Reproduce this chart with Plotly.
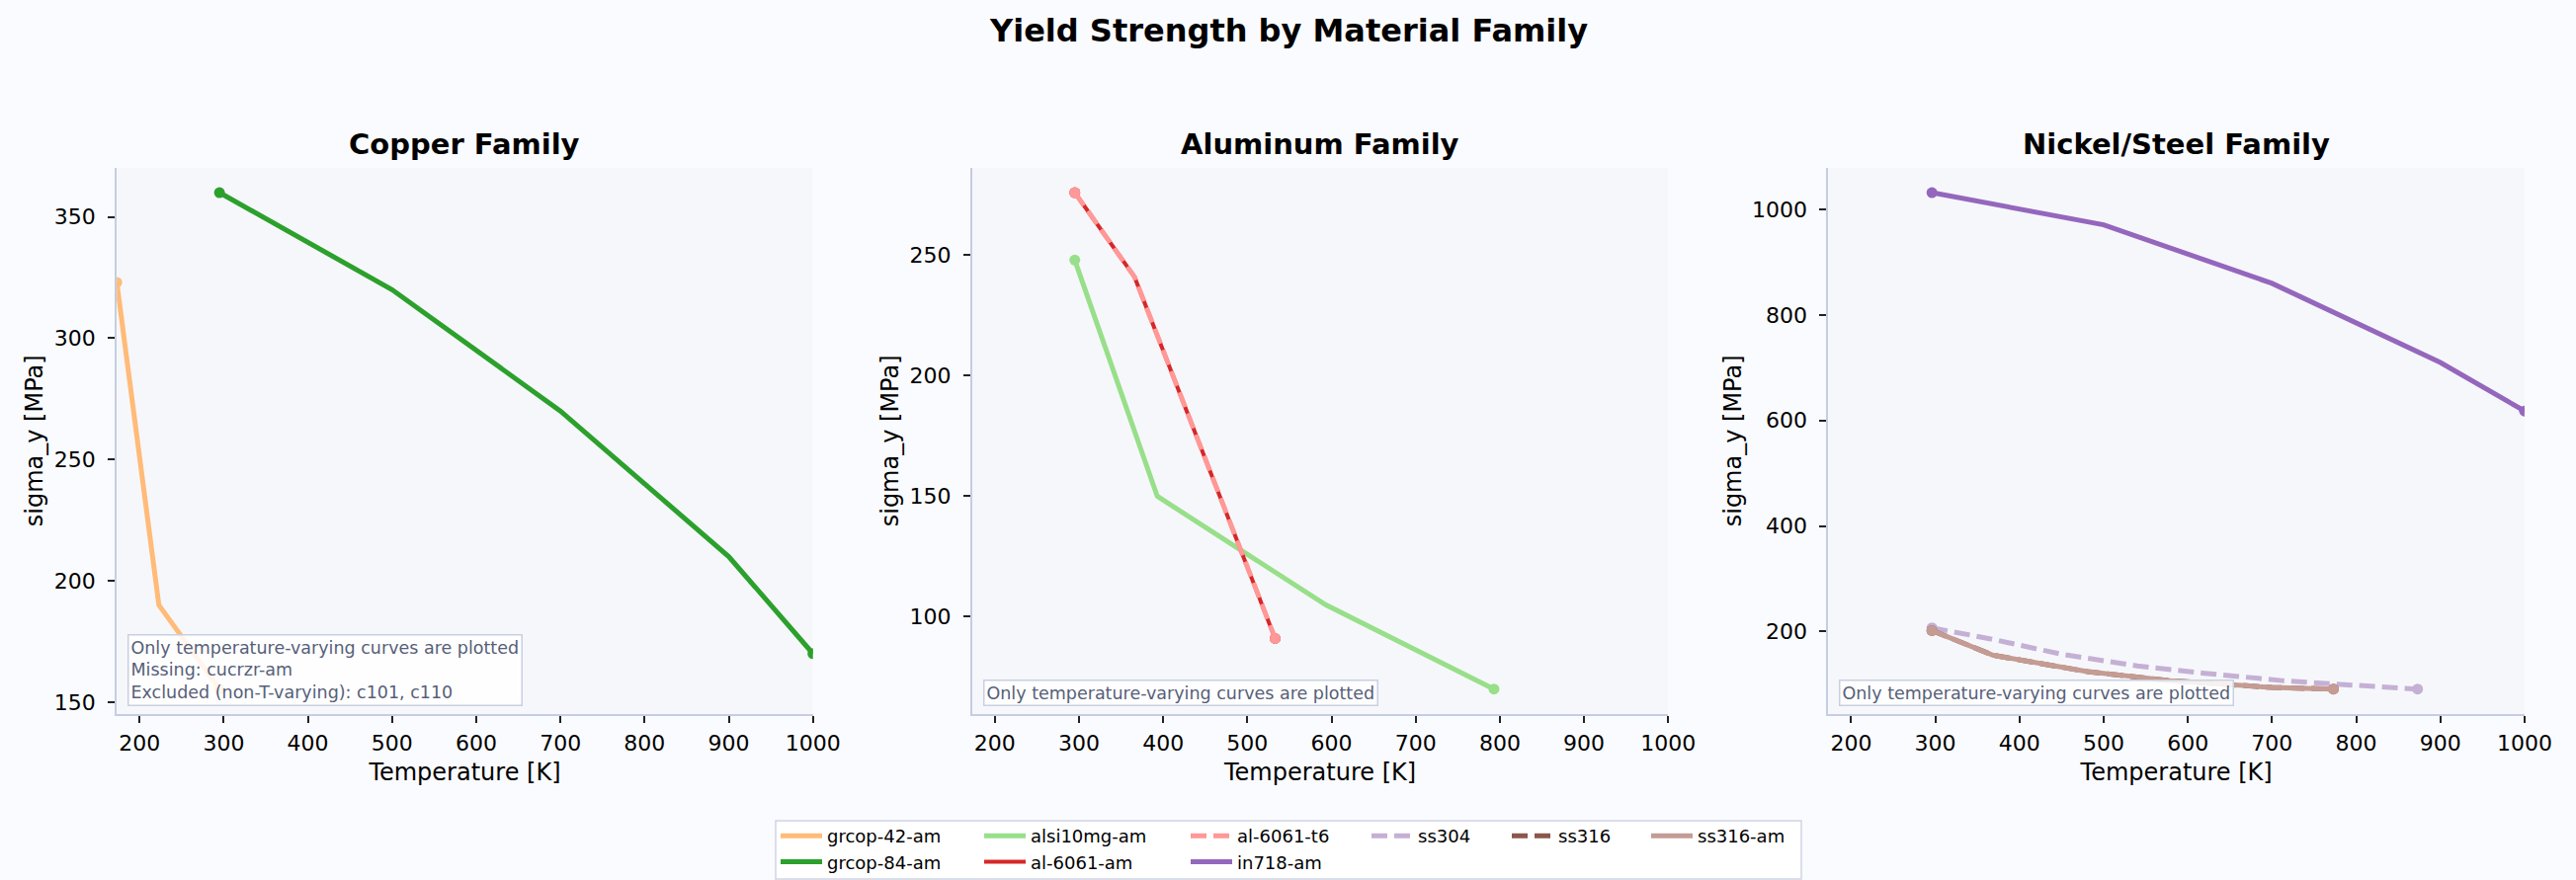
import plotly.graph_objects as go

W, H = 2607, 891

# ---------------- data ----------------
families = ["Copper Family", "Aluminum Family", "Nickel/Steel Family"]

grcop42_T = [173, 223, 273, 295]
grcop42_S = [323, 190, 166, 155.4]
grcop84_T = [295, 500, 700, 900, 1000]
grcop84_S = [360, 320, 270, 210, 170]

alsi10mg_T = [295, 393, 593, 793]
alsi10mg_S = [248, 150, 105, 70]
al6061am_T = [295, 366, 533]
al6061am_S = [276, 241, 91]
al6061t6_T = [295, 366, 533]
al6061t6_S = [276, 241, 91]

in718_T = [296, 500, 700, 900, 1000]
in718_S = [1032, 971, 860, 710, 618]
ss304_T = [296, 366, 450, 540, 620, 712, 800, 873]
ss304_S = [207, 186, 157, 135, 121, 107, 98, 91]
ss316_T = [296, 369, 481, 579, 700, 773]
ss316_S = [202, 155, 124, 107, 94, 91]
ss316am_T = [296, 369, 481, 579, 700, 773]
ss316am_S = [202, 155, 124, 107, 94, 91]

notes = [
    "Only temperature-varying curves are plotted<br>Missing: cucrzr-am<br>Excluded (non-T-varying): c101, c110",
    "Only temperature-varying curves are plotted",
    "Only temperature-varying curves are plotted",
]

x_ticks = [200, 300, 400, 500, 600, 700, 800, 900, 1000]
y_dticks = [50, 50, 200]

# series: name, T, S, subplot index, color, dash, width, legend id
series = [
    ("grcop-42-am", grcop42_T, grcop42_S, 0, "#ffbb78", "solid", 5, "legend"),
    ("grcop-84-am", grcop84_T, grcop84_S, 0, "#2ca02c", "solid", 5, "legend"),
    ("alsi10mg-am", alsi10mg_T, alsi10mg_S, 1, "#98df8a", "solid", 5, "legend2"),
    ("al-6061-am", al6061am_T, al6061am_S, 1, "#d62728", "solid", 4, "legend2"),
    ("al-6061-t6", al6061t6_T, al6061t6_S, 1, "#ff9896", "16px,7px", 5, "legend3"),
    ("in718-am", in718_T, in718_S, 2, "#9467bd", "solid", 5, "legend3"),
    ("ss304", ss304_T, ss304_S, 2, "#c5b0d5", "16px,7px", 5, "legend4"),
    ("ss316", ss316_T, ss316_S, 2, "#8c564b", "16px,7px", 5, "legend5"),
    ("ss316-am", ss316am_T, ss316am_S, 2, "#c49c94", "solid", 5, "legend6"),
]

# ---------------- layout geometry (pixels) ----------------
plot_left = [118.2, 983.8, 1850.4]
plot_w = 704.5
plot_top, plot_bot = 169.9, 722.8

fig = go.Figure()

for name, T, S, k, color, dash, lw, leg in series:
    xa = "x" if k == 0 else f"x{k+1}"
    ya = "y" if k == 0 else f"y{k+1}"
    fig.add_trace(go.Scatter(
        x=T, y=S, mode="lines", name=name, xaxis=xa, yaxis=ya,
        line=dict(color=color, width=lw, dash=dash), legend=leg,
    ))
    fig.add_trace(go.Scatter(
        x=[T[0], T[-1]], y=[S[0], S[-1]], mode="markers", xaxis=xa, yaxis=ya,
        marker=dict(color=color, size=11), showlegend=False, hoverinfo="skip",
    ))

all_T = [t for s in series for t in s[1]]
tmin, tmax = min(all_T), max(all_T)

layout = dict(
    width=W, height=H,
    margin=dict(l=0, r=0, t=0, b=0),
    paper_bgcolor="#fafbfe",
    plot_bgcolor="#f6f7fb",
    font=dict(family="DejaVu Sans", color="#000000", size=22),
    showlegend=True,
)

axis_common = dict(
    showgrid=False, zeroline=False, showline=True, linecolor="#c5cde0", linewidth=2,
    ticks="outside", ticklen=7, tickwidth=1.8, tickcolor="#222222",
    tickfont=dict(size=22, color="#000000"), automargin=False,
)

for k in range(3):
    sfx = "" if k == 0 else str(k + 1)
    Sk = [v for s in series if s[3] == k for v in s[2]]
    lo, hi = min(Sk), max(Sk)
    pad = 0.05 * (hi - lo)
    layout["xaxis" + sfx] = dict(
        axis_common,
        domain=[plot_left[k] / W, (plot_left[k] + plot_w) / W],
        range=[tmin, tmax], anchor="y" + sfx,
        tickvals=x_ticks, ticklabelstandoff=2,
        title=dict(text="Temperature [K]", font=dict(size=24), standoff=9),
    )
    layout["yaxis" + sfx] = dict(
        axis_common,
        domain=[1 - plot_bot / H, 1 - plot_top / H],
        range=[lo - pad, hi + pad], anchor="x" + sfx,
        dtick=y_dticks[k], ticklabelstandoff=8,
        title=dict(text="sigma_y [MPa]", font=dict(size=24), standoff=4),
    )

# legends: one per column, mimicking a 6-column column-major legend
col_x = [785, 991, 1200, 1383, 1525, 1666]
leg_ids = ["legend", "legend2", "legend3", "legend4", "legend5", "legend6"]
for lid, cx in zip(leg_ids, col_x):
    layout[lid] = dict(
        x=cx / W, y=1 - 828 / H, xanchor="left", yanchor="top",
        orientation="v", bgcolor="rgba(0,0,0,0)", borderwidth=0,
        font=dict(size=18, color="#000000"), itemwidth=42,
    )

fig.update_layout(**layout)

# legend frame
fig.add_shape(type="rect", xref="paper", yref="paper",
              x0=785 / W, x1=1823 / W, y0=1 - 890 / H, y1=1 - 831 / H,
              fillcolor="rgba(255,255,255,0.85)", line=dict(color="#cfd5e5", width=1.5),
              layer="below")

# titles
fig.add_annotation(text="<b>Yield Strength by Material Family</b>", x=0.5, y=1 - 31 / H,
                   xref="paper", yref="paper", showarrow=False, xanchor="center", yanchor="middle",
                   font=dict(size=32, color="#000000"))
for k, fam in enumerate(families):
    cx = (plot_left[k] + plot_w / 2) / W
    fig.add_annotation(text=f"<b>{fam}</b>", x=cx, y=1 - 146 / H, xref="paper", yref="paper",
                       showarrow=False, xanchor="center", yanchor="middle",
                       font=dict(size=29, color="#000000"))

# notes
for k, note in enumerate(notes):
    sfx = "" if k == 0 else str(k + 1)
    fig.add_annotation(text=note, xref=f"x{sfx} domain", yref=f"y{sfx} domain",
                       x=11 / plot_w, y=7.4 / (plot_bot - plot_top), xanchor="left", yanchor="bottom",
                       align="left", showarrow=False, font=dict(size=17.5, color="#566078"),
                       bgcolor="rgba(255,255,255,0.85)", bordercolor="#c8d0e0", borderwidth=1.5,
                       borderpad=2)

fig.write_html("out.html")
